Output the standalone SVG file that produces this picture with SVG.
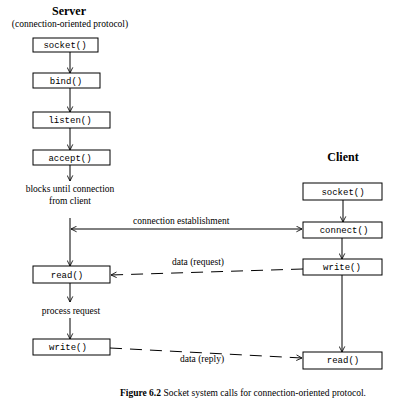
<svg xmlns="http://www.w3.org/2000/svg" width="410" height="413" viewBox="0 0 410 413">
  <style>
    .box { fill: #fff; stroke: #000; stroke-width: 1; }
    .code { font-family: "Liberation Mono", "DejaVu Sans Mono", monospace; font-size: 9px; text-anchor: middle; fill: #000; }
    .lbl { font-family: "Liberation Serif", "DejaVu Serif", serif; font-size: 9.5px; fill: #000; }
    .mid { text-anchor: middle; }
    .head { font-family: "Liberation Serif", "DejaVu Serif", serif; font-size: 12px; font-weight: bold; text-anchor: middle; fill: #000; }
    .line { fill: none; stroke: #000; stroke-width: 1; }
    .dash { stroke-dasharray: 12 8; }
  </style>
  <defs>
    <marker id="arr" viewBox="0 0 10 10" refX="9" refY="5" markerWidth="7" markerHeight="7" orient="auto" markerUnits="userSpaceOnUse">
      <path d="M1,1 L9,5 L1,9" fill="none" stroke="#000" stroke-width="1.2"/>
    </marker>
  </defs>
  <rect width="410" height="413" fill="#fff"/>

  <!-- titles -->
  <text class="head" x="69" y="15">Server</text>
  <text class="lbl mid" x="70" y="27">(connection-oriented protocol)</text>
  <text class="head" x="343" y="161">Client</text>

  <!-- server nodes -->
  <g id="srv-socket"><rect class="box" x="33" y="38" width="65" height="14"/><text class="code" x="65" y="48">socket()</text></g>
  <g id="srv-bind"><rect class="box" x="33" y="73" width="67" height="15"/><text class="code" x="66" y="84">bind()</text></g>
  <g id="srv-listen"><rect class="box" x="33" y="112" width="77" height="16"/><text class="code" x="70" y="123">listen()</text></g>
  <g id="srv-accept"><rect class="box" x="33" y="150" width="77" height="15"/><text class="code" x="70" y="161">accept()</text></g>
  <g id="srv-block">
    <text class="lbl mid" x="70" y="192">blocks until connection</text>
    <text class="lbl mid" x="70" y="204">from client</text>
  </g>
  <g id="srv-read"><rect class="box" x="33" y="266" width="77" height="17"/><text class="code" x="67" y="278">read()</text></g>
  <g id="srv-process"><text class="lbl mid" x="71" y="314">process request</text></g>
  <g id="srv-write"><rect class="box" x="33" y="339" width="77" height="16"/><text class="code" x="68" y="350">write()</text></g>

  <!-- client nodes -->
  <g id="cli-socket"><rect class="box" x="303" y="183" width="79" height="17"/><text class="code" x="343" y="195">socket()</text></g>
  <g id="cli-connect"><rect class="box" x="303" y="222" width="79" height="16"/><text class="code" x="344" y="233">connect()</text></g>
  <g id="cli-write"><rect class="box" x="303" y="259" width="79" height="16"/><text class="code" x="342" y="270">write()</text></g>
  <g id="cli-read"><rect class="box" x="303" y="352" width="79" height="17"/><text class="code" x="343" y="363">read()</text></g>

  <!-- caption -->
  <text class="lbl" x="120" y="396" font-size="9.3"><tspan font-weight="bold">Figure 6.2</tspan>   Socket system calls for connection-oriented protocol.</text>

  <!-- connectors -->
  <g id="connectors">
    <line class="line" x1="70" y1="52" x2="70" y2="73" marker-end="url(#arr)"/>
    <line class="line" x1="70" y1="88" x2="70" y2="112" marker-end="url(#arr)"/>
    <line class="line" x1="70" y1="128" x2="70" y2="150" marker-end="url(#arr)"/>
    <line class="line" x1="70" y1="165" x2="70" y2="181" marker-end="url(#arr)"/>
    <line class="line" x1="70" y1="218" x2="70" y2="266" marker-end="url(#arr)"/>
    <line class="line" x1="70" y1="283" x2="70" y2="302" marker-end="url(#arr)"/>
    <line class="line" x1="70" y1="318" x2="70" y2="339" marker-end="url(#arr)"/>

    <line class="line" x1="343" y1="200" x2="343" y2="222" marker-end="url(#arr)"/>
    <line class="line" x1="342" y1="238" x2="342" y2="259" marker-end="url(#arr)"/>
    <line class="line" x1="342" y1="275" x2="342" y2="352" marker-end="url(#arr)"/>

    <!-- connection establishment -->
    <line class="line" x1="196" y1="229" x2="71" y2="229" marker-end="url(#arr)"/>
    <line class="line" x1="196" y1="229" x2="302" y2="229" marker-end="url(#arr)"/>
    <text class="lbl" x="133" y="224">connection establishment</text>

    <!-- data (request) -->
    <line class="line dash" x1="303" y1="269" x2="111" y2="275" marker-end="url(#arr)"/>
    <text class="lbl" x="172" y="265">data (request)</text>

    <!-- data (reply) -->
    <line class="line dash" x1="110" y1="348" x2="302" y2="358" marker-end="url(#arr)"/>
    <text class="lbl" x="180" y="362">data (reply)</text>
  </g>
</svg>
